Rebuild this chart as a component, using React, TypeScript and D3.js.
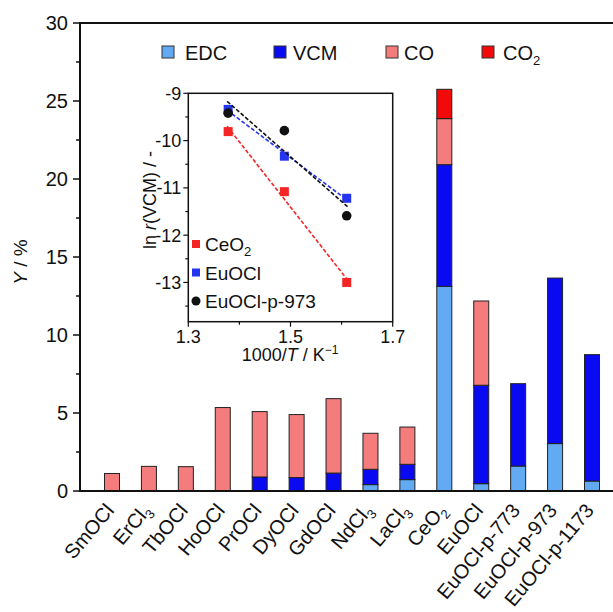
import React from "react";
import * as d3 from "d3";

const categories = ["SmOCl", "ErCl3", "TbOCl", "HoOCl", "PrOCl", "DyOCl", "GdOCl", "NdCl3", "LaCl3", "CeO2", "EuOCl", "EuOCl-p-773", "EuOCl-p-973", "EuOCl-p-1173"];
const edc = [0, 0, 0, 0, 0, 0, 0, 0.41, 0.73, 13.12, 0.47, 1.6, 3.04, 0.64];
const vcm = [0, 0, 0, 0, 0.9, 0.86, 1.15, 0.98, 0.98, 7.8, 6.31, 5.28, 10.61, 8.1];
const co = [1.12, 1.58, 1.56, 5.35, 4.19, 4.04, 4.77, 2.31, 2.39, 2.95, 5.4, 0, 0, 0];
const co2 = [0, 0, 0, 0, 0, 0, 0, 0, 0, 1.88, 0, 0, 0, 0];
const seriesKeys = ["EDC", "VCM", "CO", "CO2"];
const yTicks = [0, 5, 10, 15, 20, 25, 30];
const yMinorTicks = [2.5, 7.5, 12.5, 17.5, 22.5, 27.5];

const insetX = [1.378, 1.488, 1.61];
const lnCeO2 = [-9.81, -11.08, -13.0];
const lnEuOCl = [-9.34, -10.33, -11.22];
const lnEuOClP973 = [-9.42, -9.79, -11.59];
const insetXTicks = [1.3, 1.5, 1.7];
const insetXMinor = [1.4, 1.6];
const insetYTicks = [-9, -10, -11, -12, -13];
const insetYMinor = [-9.5, -10.5, -11.5, -12.5, -13.5];

const colors: Record<string, string> = { EDC: "#62abf2", VCM: "#0a0af2", CO: "#f47c7c", CO2: "#f20a0a" };
const FONT = "'Liberation Sans', Arial, sans-serif";

function Label({ text, sub = 13, shift = 5 }: { text: string; sub?: number; shift?: number }) {
  const m = !text.includes("-") && text.match(/^(.*?)(\d)$/);
  if (m) {
    return (
      <>
        {m[1]}
        <tspan dy={shift} fontSize={sub}>{m[2]}</tspan>
      </>
    );
  }
  return <>{text}</>;
}

function linFit(xs: number[], ys: number[]) {
  const mx = d3.mean(xs)!;
  const my = d3.mean(ys)!;
  let sxy = 0, sxx = 0;
  xs.forEach((x, i) => { sxy += (x - mx) * (ys[i] - my); sxx += (x - mx) * (x - mx); });
  const b = sxy / sxx;
  return (x: number) => my + b * (x - mx);
}

export default function App() {
  const W = 613, H = 612;
  const axisX = 80;
  const y = d3.scaleLinear().domain([0, 30]).range([491, 23]);
  const x = d3.scalePoint<string>().domain(categories).range([112, 592]);
  const barW = 15;

  const rows = categories.map((c, i) => ({ cat: c, EDC: edc[i], VCM: vcm[i], CO: co[i], CO2: co2[i] }));
  const stacked = d3.stack<any>().keys(seriesKeys)(rows);

  // inset
  const ix = d3.scaleLinear().domain([1.3, 1.7]).range([188.3, 392.7]);
  const iy = d3.scaleLinear().domain([-13.83, -9]).range([321.7, 93.3]);
  const insetSeries = [
    { name: "CeO2", ys: lnCeO2, color: "#f52525", shape: "square" },
    { name: "EuOCl", ys: lnEuOCl, color: "#2335ee", shape: "square" },
    { name: "EuOCl-p-973", ys: lnEuOClP973, color: "#111111", shape: "circle" },
  ];
  const lineGen = d3.line<[number, number]>().x((d) => ix(d[0])).y((d) => iy(d[1]));

  const legendItems = [
    { key: "EDC", sx: 162, tx: 185 },
    { key: "VCM", sx: 274, tx: 293 },
    { key: "CO", sx: 386, tx: 404 },
    { key: "CO2", sx: 482, tx: 503 },
  ];

  return (
    <svg width={W} height={H} style={{ position: "absolute", left: 0, top: 0, background: "#fff" }} fontFamily={FONT}>
      {/* bars */}
      {stacked.map((layer) => (
        <g key={layer.key}>
          {layer.map((d, i) => {
            const h = y(d[0]) - y(d[1]);
            if (h <= 0) return null;
            return (
              <rect key={i} x={x(categories[i])! - barW / 2} y={y(d[1])} width={barW} height={h}
                fill={colors[layer.key]} stroke="#222" strokeWidth={1} />
            );
          })}
        </g>
      ))}

      {/* axes */}
      <line x1={axisX} x2={W} y1={y(0)} y2={y(0)} stroke="#111" strokeWidth={2} />
      <line x1={axisX} x2={W} y1={y(30)} y2={y(30)} stroke="#111" strokeWidth={2} />
      <line x1={axisX} x2={axisX} y1={y(0) + 1} y2={y(30) - 1} stroke="#111" strokeWidth={2} />
      {yTicks.map((t) => (
        <g key={t}>
          <line x1={axisX - 7} x2={axisX} y1={y(t)} y2={y(t)} stroke="#111" strokeWidth={1.5} />
          <text x={axisX - 12} y={y(t)} dy="0.36em" textAnchor="end" fontSize={20} fill="#111">{t}</text>
        </g>
      ))}
      {yMinorTicks.map((t) => (
        <line key={t} x1={axisX - 4} x2={axisX} y1={y(t)} y2={y(t)} stroke="#111" strokeWidth={1.5} />
      ))}
      <text transform={`translate(27,262) rotate(-90)`} textAnchor="middle" fontSize={19} fill="#111">
        <tspan fontStyle="italic">Y</tspan> / %
      </text>

      {/* x labels */}
      {categories.map((c) => (
        <text key={c} transform={`translate(${x(c)! + 3},511) rotate(-50)`} textAnchor="end" fontSize={20} fill="#111">
          <Label text={c} />
        </text>
      ))}

      {/* legend */}
      {legendItems.map((l) => (
        <g key={l.key}>
          <rect x={l.sx} y={46} width={12} height={12} fill={colors[l.key]} stroke="#333" strokeWidth={1} />
          <text x={l.tx} y={60} fontSize={20} fill="#111"><Label text={l.key} /></text>
        </g>
      ))}

      {/* inset */}
      <rect x={ix(1.3)} y={iy(-9)} width={ix(1.7) - ix(1.3)} height={iy(-13.83) - iy(-9)} fill="#fff" stroke="#111" strokeWidth={1.5} />
      {insetXTicks.map((t) => (
        <g key={t}>
          <line x1={ix(t)} x2={ix(t)} y1={iy(-13.83)} y2={iy(-13.83) + 5} stroke="#111" strokeWidth={1.2} />
          <text x={ix(t)} y={iy(-13.83) + 21} textAnchor="middle" fontSize={18} fill="#111">{t.toFixed(1)}</text>
        </g>
      ))}
      {insetXMinor.map((t) => (
        <line key={t} x1={ix(t)} x2={ix(t)} y1={iy(-13.83)} y2={iy(-13.83) + 3} stroke="#111" strokeWidth={1.2} />
      ))}
      {insetYTicks.map((t) => (
        <g key={t}>
          <line x1={ix(1.3) - 5} x2={ix(1.3)} y1={iy(t)} y2={iy(t)} stroke="#111" strokeWidth={1.2} />
          <text x={ix(1.3) - 7} y={iy(t)} dy="0.36em" textAnchor="end" fontSize={18} fill="#111">{t}</text>
        </g>
      ))}
      {insetYMinor.map((t) => (
        <line key={t} x1={ix(1.3) - 3} x2={ix(1.3)} y1={iy(t)} y2={iy(t)} stroke="#111" strokeWidth={1.2} />
      ))}
      <text x={290} y={361} textAnchor="middle" fontSize={18} fill="#111">
        1000/<tspan fontStyle="italic">T</tspan> / K<tspan dy={-7} fontSize={12}>−1</tspan>
      </text>
      <text transform={`translate(156,200) rotate(-90)`} textAnchor="middle" fontSize={18} fill="#111">
        ln <tspan fontStyle="italic">r</tspan>(VCM) / -
      </text>

      {insetSeries.map((s) => {
        const f = linFit(insetX, s.ys);
        const x0 = 1.376, x1 = 1.613;
        return (
          <g key={s.name}>
            <path d={lineGen([[x0, f(x0)], [x1, f(x1)]])!} stroke={s.color} strokeWidth={1.6} strokeDasharray="4,2" fill="none" />
            {insetX.map((xv, i) =>
              s.shape === "square" ? (
                <rect key={i} x={ix(xv) - 4.5} y={iy(s.ys[i]) - 4.5} width={9} height={9} fill={s.color} />
              ) : (
                <circle key={i} cx={ix(xv)} cy={iy(s.ys[i])} r={4.8} fill={s.color} />
              )
            )}
          </g>
        );
      })}

      {/* inset legend */}
      {insetSeries.map((s, i) => {
        const cy = 244 + i * 28.5;
        return (
          <g key={s.name}>
            {s.shape === "square" ? (
              <rect x={192} y={cy - 4} width={8} height={8} fill={s.color} />
            ) : (
              <circle cx={196} cy={cy} r={4.5} fill={s.color} />
            )}
            <text x={205} y={cy + 7} fontSize={19} fill="#111"><Label text={s.name} /></text>
          </g>
        );
      })}
    </svg>
  );
}
